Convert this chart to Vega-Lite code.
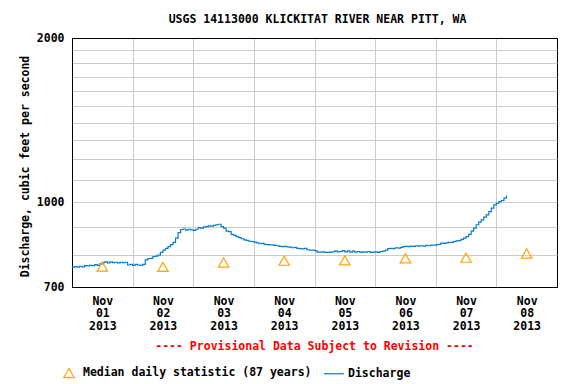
{
  "$schema": "https://vega.github.io/schema/vega-lite/v6.json",
  "width": 485,
  "height": 249,
  "autosize": {"type": "none"},
  "padding": {"left": 72, "top": 38, "right": 19, "bottom": 97},
  "background": "white",
  "title": {
    "text": "USGS 14113000 KLICKITAT RIVER NEAR PITT, WA",
    "font": "DejaVu Sans Mono",
    "fontSize": 11.5,
    "fontWeight": "bold",
    "color": "black",
    "anchor": "middle",
    "frame": "group",
    "offset": 7,
    "dx": 3
  },
  "datasets": {
    "q": [
      {"t": "2013-11-01T00:00", "q": 761}, {"t": "2013-11-01T01:00", "q": 763}, {"t": "2013-11-01T02:00", "q": 761}, {"t": "2013-11-01T03:00", "q": 764},
      {"t": "2013-11-01T04:00", "q": 762}, {"t": "2013-11-01T05:00", "q": 766}, {"t": "2013-11-01T06:00", "q": 765}, {"t": "2013-11-01T07:00", "q": 767},
      {"t": "2013-11-01T08:00", "q": 766}, {"t": "2013-11-01T09:00", "q": 769}, {"t": "2013-11-01T10:00", "q": 767}, {"t": "2013-11-01T11:00", "q": 772},
      {"t": "2013-11-01T12:00", "q": 776}, {"t": "2013-11-01T13:00", "q": 778}, {"t": "2013-11-01T14:00", "q": 775}, {"t": "2013-11-01T15:00", "q": 778},
      {"t": "2013-11-01T16:00", "q": 776}, {"t": "2013-11-01T17:00", "q": 777}, {"t": "2013-11-01T18:00", "q": 775}, {"t": "2013-11-01T19:00", "q": 777},
      {"t": "2013-11-01T20:00", "q": 776}, {"t": "2013-11-01T21:00", "q": 777}, {"t": "2013-11-01T22:00", "q": 768}, {"t": "2013-11-01T23:00", "q": 770},
      {"t": "2013-11-02T00:00", "q": 767}, {"t": "2013-11-02T01:00", "q": 770}, {"t": "2013-11-02T02:00", "q": 768}, {"t": "2013-11-02T03:00", "q": 767},
      {"t": "2013-11-02T04:00", "q": 770}, {"t": "2013-11-02T05:00", "q": 785}, {"t": "2013-11-02T06:00", "q": 789}, {"t": "2013-11-02T07:00", "q": 790},
      {"t": "2013-11-02T08:00", "q": 796}, {"t": "2013-11-02T09:00", "q": 797}, {"t": "2013-11-02T10:00", "q": 801}, {"t": "2013-11-02T11:00", "q": 810},
      {"t": "2013-11-02T12:00", "q": 818}, {"t": "2013-11-02T13:00", "q": 824}, {"t": "2013-11-02T14:00", "q": 830}, {"t": "2013-11-02T15:00", "q": 837},
      {"t": "2013-11-02T16:00", "q": 845}, {"t": "2013-11-02T17:00", "q": 860}, {"t": "2013-11-02T18:00", "q": 880}, {"t": "2013-11-02T19:00", "q": 892},
      {"t": "2013-11-02T20:00", "q": 894}, {"t": "2013-11-02T21:00", "q": 890}, {"t": "2013-11-02T22:00", "q": 893}, {"t": "2013-11-02T23:00", "q": 891},
      {"t": "2013-11-03T00:00", "q": 889}, {"t": "2013-11-03T01:00", "q": 893}, {"t": "2013-11-03T02:00", "q": 899}, {"t": "2013-11-03T03:00", "q": 897},
      {"t": "2013-11-03T04:00", "q": 902}, {"t": "2013-11-03T05:00", "q": 903}, {"t": "2013-11-03T06:00", "q": 906}, {"t": "2013-11-03T07:00", "q": 905},
      {"t": "2013-11-03T08:00", "q": 908}, {"t": "2013-11-03T09:00", "q": 910}, {"t": "2013-11-03T10:00", "q": 912}, {"t": "2013-11-03T11:00", "q": 903},
      {"t": "2013-11-03T12:00", "q": 897}, {"t": "2013-11-03T13:00", "q": 886}, {"t": "2013-11-03T14:00", "q": 884}, {"t": "2013-11-03T15:00", "q": 874},
      {"t": "2013-11-03T16:00", "q": 870}, {"t": "2013-11-03T17:00", "q": 866}, {"t": "2013-11-03T18:00", "q": 862}, {"t": "2013-11-03T19:00", "q": 858},
      {"t": "2013-11-03T20:00", "q": 854}, {"t": "2013-11-03T21:00", "q": 852}, {"t": "2013-11-03T22:00", "q": 849}, {"t": "2013-11-03T23:00", "q": 848},
      {"t": "2013-11-04T00:00", "q": 846}, {"t": "2013-11-04T01:00", "q": 843}, {"t": "2013-11-04T02:00", "q": 840}, {"t": "2013-11-04T03:00", "q": 841},
      {"t": "2013-11-04T04:00", "q": 838}, {"t": "2013-11-04T05:00", "q": 837}, {"t": "2013-11-04T06:00", "q": 836}, {"t": "2013-11-04T07:00", "q": 836},
      {"t": "2013-11-04T08:00", "q": 834}, {"t": "2013-11-04T09:00", "q": 833}, {"t": "2013-11-04T10:00", "q": 831}, {"t": "2013-11-04T11:00", "q": 830},
      {"t": "2013-11-04T12:00", "q": 831}, {"t": "2013-11-04T13:00", "q": 829}, {"t": "2013-11-04T14:00", "q": 828}, {"t": "2013-11-04T15:00", "q": 826},
      {"t": "2013-11-04T16:00", "q": 827}, {"t": "2013-11-04T17:00", "q": 824}, {"t": "2013-11-04T18:00", "q": 823}, {"t": "2013-11-04T19:00", "q": 822},
      {"t": "2013-11-04T20:00", "q": 824}, {"t": "2013-11-04T21:00", "q": 819}, {"t": "2013-11-04T22:00", "q": 818}, {"t": "2013-11-04T23:00", "q": 818},
      {"t": "2013-11-05T00:00", "q": 816}, {"t": "2013-11-05T01:00", "q": 811}, {"t": "2013-11-05T02:00", "q": 811}, {"t": "2013-11-05T03:00", "q": 812},
      {"t": "2013-11-05T04:00", "q": 810}, {"t": "2013-11-05T05:00", "q": 810}, {"t": "2013-11-05T06:00", "q": 811}, {"t": "2013-11-05T07:00", "q": 812},
      {"t": "2013-11-05T08:00", "q": 815}, {"t": "2013-11-05T09:00", "q": 812}, {"t": "2013-11-05T10:00", "q": 813}, {"t": "2013-11-05T11:00", "q": 816},
      {"t": "2013-11-05T12:00", "q": 812}, {"t": "2013-11-05T13:00", "q": 815}, {"t": "2013-11-05T14:00", "q": 811}, {"t": "2013-11-05T15:00", "q": 814},
      {"t": "2013-11-05T16:00", "q": 811}, {"t": "2013-11-05T17:00", "q": 813}, {"t": "2013-11-05T18:00", "q": 810}, {"t": "2013-11-05T19:00", "q": 812},
      {"t": "2013-11-05T20:00", "q": 811}, {"t": "2013-11-05T21:00", "q": 813}, {"t": "2013-11-05T22:00", "q": 810}, {"t": "2013-11-05T23:00", "q": 811},
      {"t": "2013-11-06T00:00", "q": 812}, {"t": "2013-11-06T01:00", "q": 810}, {"t": "2013-11-06T02:00", "q": 813}, {"t": "2013-11-06T03:00", "q": 814},
      {"t": "2013-11-06T04:00", "q": 818}, {"t": "2013-11-06T05:00", "q": 823}, {"t": "2013-11-06T06:00", "q": 824}, {"t": "2013-11-06T07:00", "q": 823},
      {"t": "2013-11-06T08:00", "q": 826}, {"t": "2013-11-06T09:00", "q": 825}, {"t": "2013-11-06T10:00", "q": 827}, {"t": "2013-11-06T11:00", "q": 830},
      {"t": "2013-11-06T12:00", "q": 831}, {"t": "2013-11-06T13:00", "q": 830}, {"t": "2013-11-06T14:00", "q": 832}, {"t": "2013-11-06T15:00", "q": 831},
      {"t": "2013-11-06T16:00", "q": 833}, {"t": "2013-11-06T17:00", "q": 832}, {"t": "2013-11-06T18:00", "q": 833}, {"t": "2013-11-06T19:00", "q": 832},
      {"t": "2013-11-06T20:00", "q": 834}, {"t": "2013-11-06T21:00", "q": 833}, {"t": "2013-11-06T22:00", "q": 835}, {"t": "2013-11-06T23:00", "q": 835},
      {"t": "2013-11-07T00:00", "q": 836}, {"t": "2013-11-07T01:00", "q": 838}, {"t": "2013-11-07T02:00", "q": 842}, {"t": "2013-11-07T03:00", "q": 841},
      {"t": "2013-11-07T04:00", "q": 843}, {"t": "2013-11-07T05:00", "q": 845}, {"t": "2013-11-07T06:00", "q": 845}, {"t": "2013-11-07T07:00", "q": 848},
      {"t": "2013-11-07T08:00", "q": 850}, {"t": "2013-11-07T09:00", "q": 851}, {"t": "2013-11-07T10:00", "q": 856}, {"t": "2013-11-07T11:00", "q": 860},
      {"t": "2013-11-07T12:00", "q": 866}, {"t": "2013-11-07T13:00", "q": 874}, {"t": "2013-11-07T14:00", "q": 886}, {"t": "2013-11-07T15:00", "q": 897},
      {"t": "2013-11-07T16:00", "q": 910}, {"t": "2013-11-07T17:00", "q": 920}, {"t": "2013-11-07T18:00", "q": 929}, {"t": "2013-11-07T19:00", "q": 940},
      {"t": "2013-11-07T20:00", "q": 949}, {"t": "2013-11-07T21:00", "q": 962}, {"t": "2013-11-07T22:00", "q": 976}, {"t": "2013-11-07T23:00", "q": 990},
      {"t": "2013-11-08T00:00", "q": 997}, {"t": "2013-11-08T01:00", "q": 1003}, {"t": "2013-11-08T02:00", "q": 1008}, {"t": "2013-11-08T03:00", "q": 1018},
      {"t": "2013-11-08T04:00", "q": 1030}
    ],
    "med": [
      {"t": "2013-11-01T12:00", "q": 763}, {"t": "2013-11-02T12:00", "q": 762}, {"t": "2013-11-03T12:00", "q": 776}, {"t": "2013-11-04T12:00", "q": 782},
      {"t": "2013-11-05T12:00", "q": 783}, {"t": "2013-11-06T12:00", "q": 790}, {"t": "2013-11-07T12:00", "q": 792}, {"t": "2013-11-08T12:00", "q": 806}
    ]
  },
  "encoding": {
    "x": {
      "field": "t",
      "type": "temporal",
      "scale": {"domain": [{"year": 2013, "month": 11, "date": 1}, {"year": 2013, "month": 11, "date": 9}], "nice": false},
      "axis": {
        "values": [
          {"year": 2013, "month": 11, "date": 1}, {"year": 2013, "month": 11, "date": 2}, {"year": 2013, "month": 11, "date": 3},
          {"year": 2013, "month": 11, "date": 4}, {"year": 2013, "month": 11, "date": 5}, {"year": 2013, "month": 11, "date": 6},
          {"year": 2013, "month": 11, "date": 7}, {"year": 2013, "month": 11, "date": 8}
        ],
        "labelExpr": "[timeFormat(datum.value, '%b'), timeFormat(datum.value, '%d'), timeFormat(datum.value, '%Y')]",
        "labelOffset": 30.3,
        "labelFlush": false,
        "labelOverlap": false,
        "labelBound": false,
        "labelAlign": "center",
        "labelBaseline": "top",
        "labelLineHeight": 12.8,
        "labelPadding": 8,
        "title": "---- Provisional Data Subject to Revision ----",
        "titleColor": "#ff0000",
        "titleX": 242,
        "titleY": 59,
        "titleAlign": "center",
        "titleBaseline": "middle",
        "grid": true,
        "gridColor": {"condition": {"test": "month(datum.value) == 10 && date(datum.value) == 1", "value": "black"}, "value": "#cccccc"},
        "domain": true,
        "domainColor": "black",
        "ticks": false
      }
    },
    "y": {
      "field": "q",
      "type": "quantitative",
      "scale": {"type": "log", "domain": [700, 2000], "nice": false},
      "axis": {
        "values": [700, 800, 900, 1000, 1100, 1200, 1300, 1400, 1500, 1600, 1700, 1800, 1900, 2000],
        "labelExpr": "(datum.value == 700 || datum.value == 1000 || datum.value == 2000) ? format(datum.value, 'd') : ''",
        "labelPadding": 8,
        "title": "Discharge, cubic feet per second",
        "titleAngle": -90,
        "titleX": -47,
        "titleY": 128,
        "titleAlign": "center",
        "titleBaseline": "middle",
        "grid": true,
        "gridColor": {"condition": {"test": "datum.value == 700 || datum.value == 2000", "value": "black"}, "value": "#cccccc"},
        "domain": true,
        "domainColor": "black",
        "ticks": false
      }
    }
  },
  "layer": [
    {
      "data": {"name": "q"},
      "mark": {"type": "line", "interpolate": "step-after", "strokeWidth": 1.2},
      "encoding": {
        "color": {
          "datum": "Discharge",
          "scale": {"domain": ["Median daily statistic (87 years)", "Discharge"], "range": ["#ffa500", "#0a7bd0"]},
          "legend": {
            "title": null,
            "orient": "none",
            "legendX": -9,
            "legendY": 329,
            "direction": "horizontal",
            "symbolSize": 400,
            "symbolStrokeWidth": 1.2,
            "labelOffset": 8,
            "labelLimit": 0,
            "columnPadding": 9,
            "padding": 0,
            "labelFont": "DejaVu Sans Mono",
            "labelFontSize": 11.5,
            "labelFontWeight": "bold",
            "labelColor": "black",
            "encode": {
              "symbols": {
                "update": {
                  "shape": {"signal": "datum.value === 'Discharge' ? 'stroke' : 'triangle-up'"},
                  "size": {"signal": "datum.value === 'Discharge' ? 400 : 110"},
                  "fill": {"value": "transparent"},
                  "stroke": {"signal": "datum.value === 'Discharge' ? '#0a7bd0' : '#ffa500'"},
                  "strokeWidth": {"value": 1.2}
                }
              }
            }
          }
        }
      }
    },
    {
      "data": {"name": "med"},
      "mark": {"type": "point", "shape": "triangle-up", "filled": false, "size": 110, "strokeWidth": 1.2, "opacity": 1},
      "encoding": {
        "color": {"datum": "Median daily statistic (87 years)"}
      }
    }
  ],
  "config": {
    "view": {"stroke": "black", "strokeWidth": 1},
    "axis": {
      "labelFont": "DejaVu Sans Mono",
      "labelFontSize": 11.5,
      "labelFontWeight": "bold",
      "labelColor": "black",
      "titleFont": "DejaVu Sans Mono",
      "titleFontSize": 11.5,
      "titleFontWeight": "bold",
      "titleColor": "black",
      "gridWidth": 1
    }
  }
}
